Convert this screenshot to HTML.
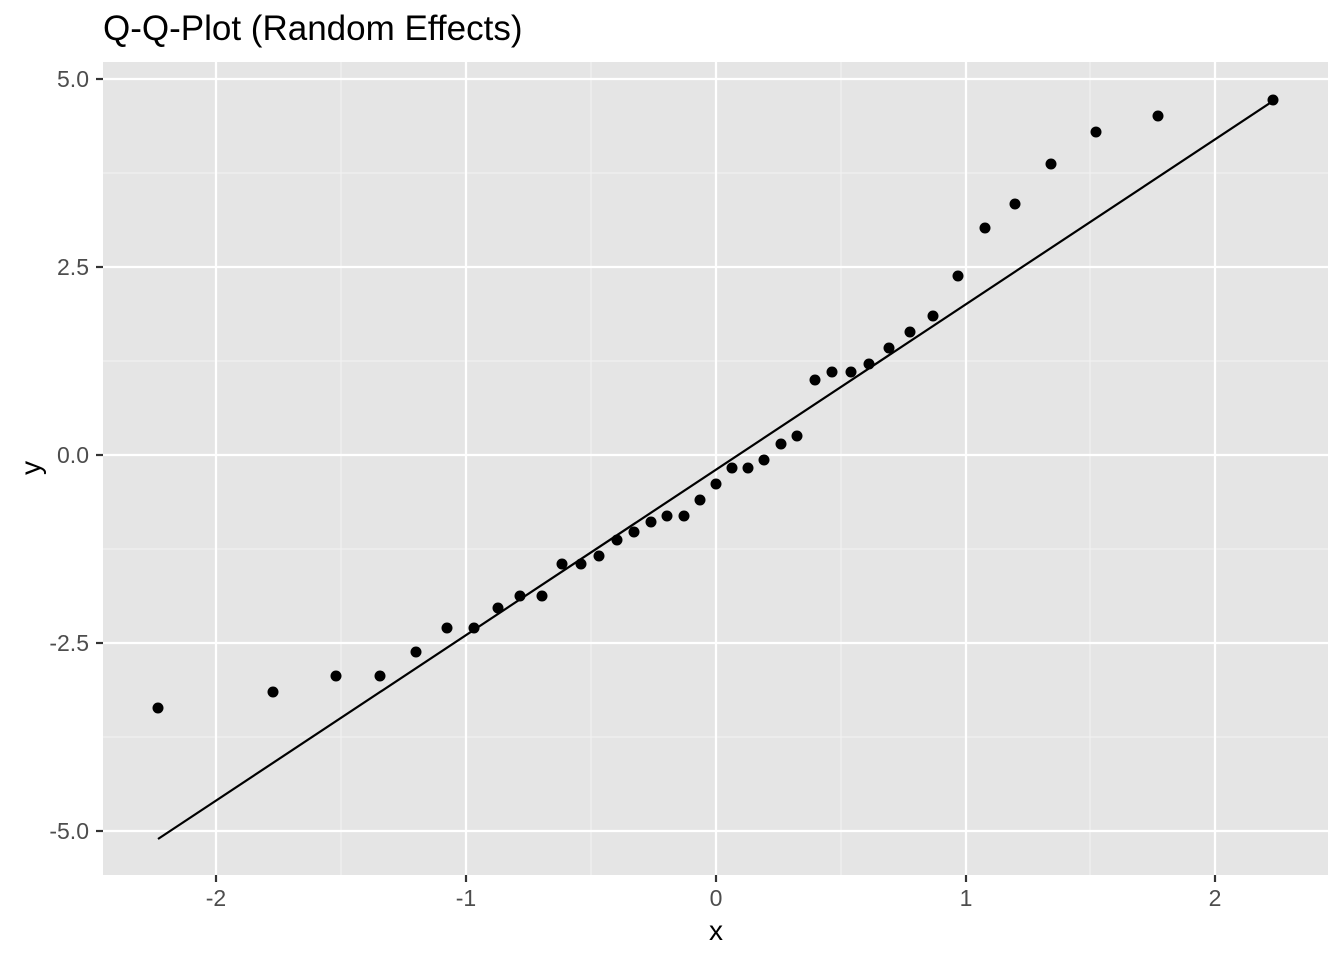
<!DOCTYPE html>
<html><head><style>body{margin:0;background:#fff}</style></head><body>
<svg width="1344" height="960" xmlns="http://www.w3.org/2000/svg" font-family="Liberation Sans, sans-serif">
<rect x="103" y="62" width="1225" height="813" fill="#e5e5e5"/>
<g stroke="#f2f2f2" stroke-width="1.1">
<line x1="341" y1="62" x2="341" y2="875"/><line x1="591" y1="62" x2="591" y2="875"/><line x1="841" y1="62" x2="841" y2="875"/><line x1="1090" y1="62" x2="1090" y2="875"/>
<line x1="103" y1="173" x2="1328" y2="173"/><line x1="103" y1="361" x2="1328" y2="361"/><line x1="103" y1="549" x2="1328" y2="549"/><line x1="103" y1="737" x2="1328" y2="737"/>
</g>
<g stroke="#fff" stroke-width="2.2">
<line x1="216" y1="62" x2="216" y2="875"/><line x1="466" y1="62" x2="466" y2="875"/><line x1="716" y1="62" x2="716" y2="875"/><line x1="966" y1="62" x2="966" y2="875"/><line x1="1215" y1="62" x2="1215" y2="875"/>
<line x1="103" y1="79" x2="1328" y2="79"/><line x1="103" y1="267" x2="1328" y2="267"/><line x1="103" y1="455" x2="1328" y2="455"/><line x1="103" y1="643" x2="1328" y2="643"/><line x1="103" y1="831" x2="1328" y2="831"/>
</g>
<g stroke="#333" stroke-width="2.2">
<line x1="216" y1="875" x2="216" y2="882"/><line x1="466" y1="875" x2="466" y2="882"/><line x1="716" y1="875" x2="716" y2="882"/><line x1="966" y1="875" x2="966" y2="882"/><line x1="1215" y1="875" x2="1215" y2="882"/>
<line x1="96" y1="79" x2="103" y2="79"/><line x1="96" y1="267" x2="103" y2="267"/><line x1="96" y1="455" x2="103" y2="455"/><line x1="96" y1="643" x2="103" y2="643"/><line x1="96" y1="831" x2="103" y2="831"/>
</g>
<g fill="#4d4d4d" font-size="23" text-anchor="end">
<text x="89" y="87">5.0</text><text x="89" y="275">2.5</text><text x="89" y="463">0.0</text><text x="89" y="651">-2.5</text><text x="89" y="839">-5.0</text>
</g>
<g fill="#4d4d4d" font-size="23" text-anchor="middle">
<text x="216" y="906">-2</text><text x="466" y="906">-1</text><text x="716" y="906">0</text><text x="966" y="906">1</text><text x="1215" y="906">2</text>
</g>
<text x="716" y="940" font-size="28" text-anchor="middle">x</text>
<text transform="translate(40,468) rotate(-90)" font-size="28" text-anchor="middle">y</text>
<text x="103" y="40" font-size="35">Q-Q-Plot (Random Effects)</text>
<line x1="158" y1="839" x2="1273" y2="101" stroke="#000" stroke-width="2.2"/>
<g fill="#000">
<circle cx="158" cy="708" r="5.5"/><circle cx="273" cy="692" r="5.5"/><circle cx="336" cy="676" r="5.5"/><circle cx="380" cy="676" r="5.5"/><circle cx="416" cy="652" r="5.5"/><circle cx="447" cy="628" r="5.5"/><circle cx="474" cy="628" r="5.5"/><circle cx="498" cy="608" r="5.5"/><circle cx="520" cy="596" r="5.5"/><circle cx="542" cy="596" r="5.5"/><circle cx="562" cy="564" r="5.5"/><circle cx="581" cy="564" r="5.5"/><circle cx="599" cy="556" r="5.5"/><circle cx="617" cy="540" r="5.5"/><circle cx="634" cy="532" r="5.5"/><circle cx="651" cy="522" r="5.5"/><circle cx="667" cy="516" r="5.5"/><circle cx="684" cy="516" r="5.5"/><circle cx="700" cy="500" r="5.5"/><circle cx="716" cy="484" r="5.5"/><circle cx="732" cy="468" r="5.5"/><circle cx="748" cy="468" r="5.5"/><circle cx="764" cy="460" r="5.5"/><circle cx="781" cy="444" r="5.5"/><circle cx="797" cy="436" r="5.5"/><circle cx="815" cy="380" r="5.5"/><circle cx="832" cy="372" r="5.5"/><circle cx="851" cy="372" r="5.5"/><circle cx="869" cy="364" r="5.5"/><circle cx="889" cy="348" r="5.5"/><circle cx="910" cy="332" r="5.5"/><circle cx="933" cy="316" r="5.5"/><circle cx="958" cy="276" r="5.5"/><circle cx="985" cy="228" r="5.5"/><circle cx="1015" cy="204" r="5.5"/><circle cx="1051" cy="164" r="5.5"/><circle cx="1096" cy="132" r="5.5"/><circle cx="1158" cy="116" r="5.5"/><circle cx="1273" cy="100" r="5.5"/>
</g>
</svg>
</body></html>
